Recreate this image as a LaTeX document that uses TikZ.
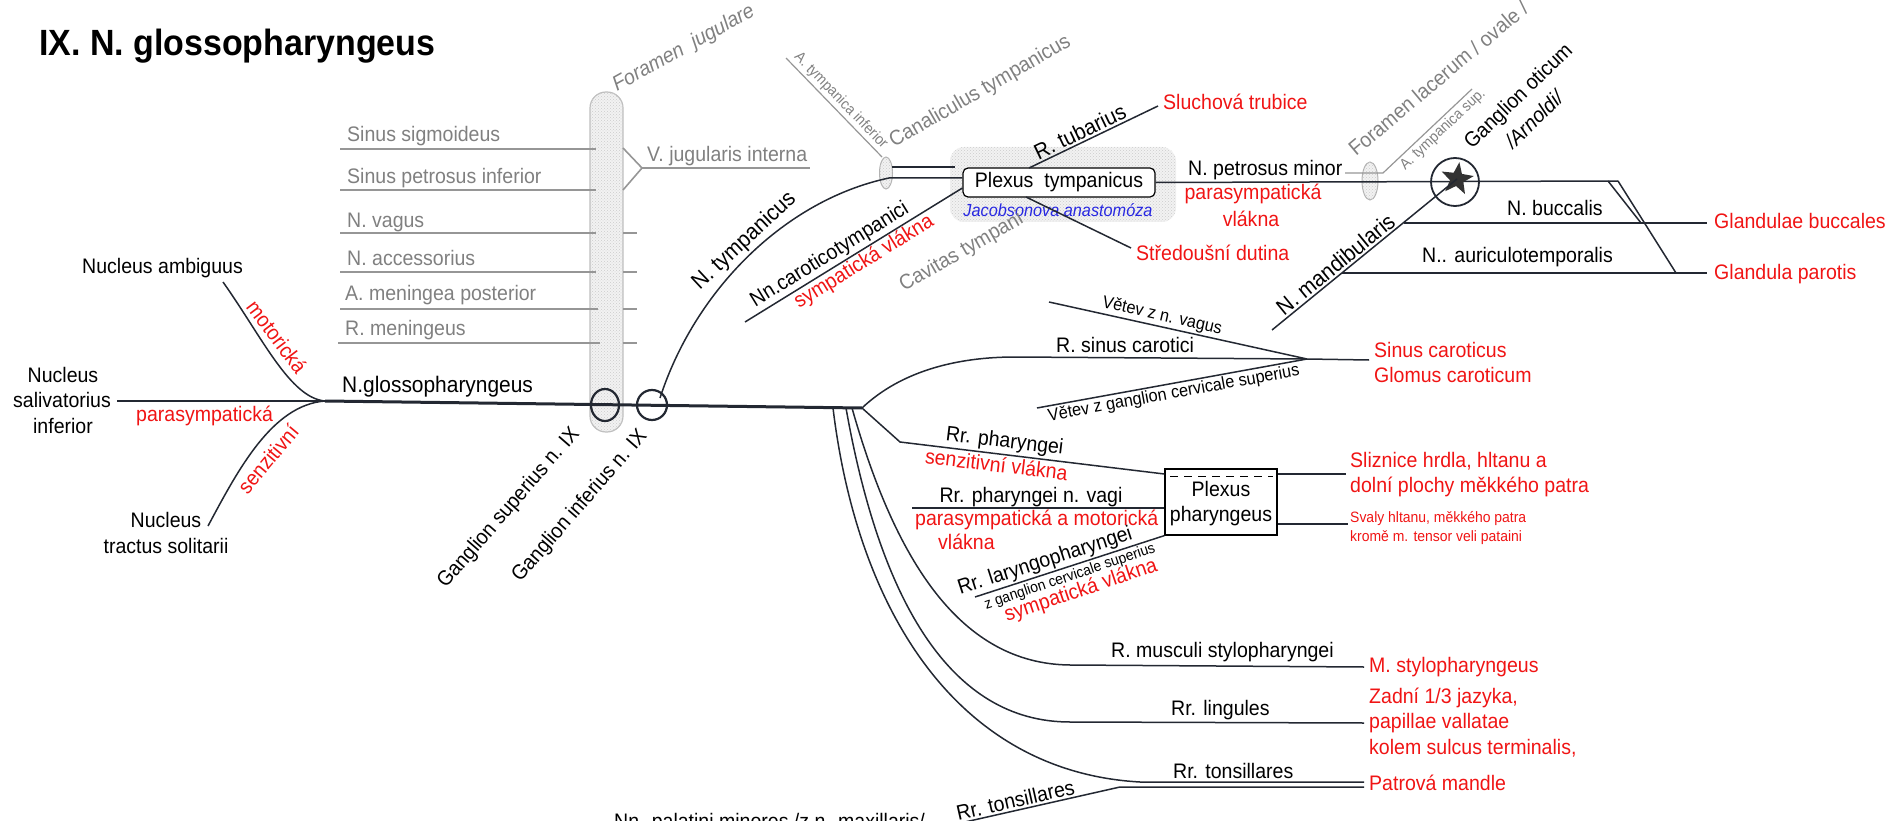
\documentclass[tikz,border=0pt]{standalone}
\usepackage{fontspec}
\setmainfont{Liberation Sans}[FakeStretch=0.93]
\usetikzlibrary{shapes.geometric,patterns}
\definecolor{tgray}{RGB}{128,128,128}
\definecolor{lgray}{RGB}{150,150,150}
\definecolor{tred}{RGB}{240,20,20}
\definecolor{tblue}{RGB}{40,40,225}
\definecolor{nerv}{RGB}{35,40,50}
\begin{document}
\begin{tikzpicture}[x=1pt,y=-1pt,
  lbl/.style={inner sep=0pt, font=\fontsize{21}{24}\selectfont},
  big/.style={inner sep=0pt, font=\fontsize{22.5}{26}\selectfont},
  sml/.style={inner sep=0pt, font=\fontsize{17.5}{20}\selectfont},
  xsml/.style={inner sep=0pt, font=\fontsize{15}{17}\selectfont},
  rt/.style={text=tred},
  gt/.style={text=tgray},
  ln/.style={draw=nerv, line width=1.5pt},
  mainline/.style={draw=nerv, line width=3pt},
  gl/.style={draw=lgray, line width=1.6pt},
  bw/.style={anchor=base west},
  hatch/.style={fill=gray!10, postaction={pattern=crosshatch dots, pattern color=gray!40}},
]
\useasboundingbox (0,0) rectangle (1895,821);

% title
\node[bw, inner sep=0pt, font=\fontsize{36.5}{40}\selectfont\bfseries] (title) at (39,56) {IX. N. glossopharyngeus};

% foramen jugulare
\draw[draw=gray!50, hatch, line width=1.2pt, rounded corners=16pt] (590,92) rectangle (623,432);
\node[bw, gt, inner sep=0pt, rotate=29, font=\fontsize{21}{24}\selectfont\itshape] (fj) at (617,92) {Foramen\ \ jugulare};

% venous / other structures
\node[lbl,gt,bw] (ss) at (347,142) {Sinus sigmoideus};
\node[lbl,gt,bw] (spi) at (347,184) {Sinus petrosus inferior};
\node[lbl,gt,bw] (nv) at (347,227) {N. vagus};
\node[lbl,gt,bw] (nac) at (347,265) {N. accessorius};
\node[lbl,gt,bw] (amp) at (345,300) {A. meningea posterior};
\node[lbl,gt,bw] (rm) at (345,335) {R. meningeus};
\draw[gl] (340,149) -- (596,149);
\draw[gl] (340,190) -- (596,190);
\draw[gl] (340,233) -- (596,233);
\draw[gl] (340,272) -- (596,272);
\draw[gl] (340,309) -- (598,309);
\draw[gl] (338,343) -- (600,343);
\draw[gl] (623,233) -- (637,233);
\draw[gl] (623,272) -- (637,272);
\draw[gl] (623,309) -- (637,309);
\draw[gl] (623,343) -- (637,343);
\coordinate (VJ) at (642,168);
\draw[gl] (623,148) -- (VJ) -- (623,190);
\draw[gl] (VJ) -- (810,168);
\node[lbl,gt,bw] (vji) at (647,162) {V. jugularis interna};

% nuclei
\node[lbl,bw] (na) at (82,273) {Nucleus ambiguus};
\node[lbl,anchor=base] (ns1) at (63,382) {Nucleus};
\node[lbl,anchor=base] (ns2) at (62,407) {salivatorius};
\node[lbl,anchor=base] (ns3) at (63,433) {inferior};
\node[lbl,anchor=base] (nt1) at (166,527) {Nucleus};
\node[lbl,anchor=base] (nt2) at (166,553) {tractus solitarii};

\coordinate (J) at (325,401);
\coordinate (BP) at (862,408);
\draw[ln] (117,401) -- (J);
\draw[ln] (223,282) .. controls (262,337) and (290,398) .. (J);
\draw[ln] (208,526) .. controls (238,470) and (272,405) .. (J);
\draw[mainline] (J) -- (BP);

\node[lbl,rt,rotate=-53] (mot) at (277,337) {motorická};
\node[lbl,rt,rotate=50] (sen) at (268,459) {senzitivní};
\node[lbl,rt,bw] (par) at (136,421) {parasympatická};
\node[bw,inner sep=0pt,font=\fontsize{22.5}{26}\selectfont] (ngl) at (342,392) {N.glossopharyngeus};

% ganglia
\draw[draw=nerv, line width=2.2pt] (605,405) ellipse [x radius=14pt, y radius=16pt];
\draw[draw=nerv, line width=2.2pt] (652,405) circle [radius=15pt];
\node[lbl,rotate=49] (gs) at (509,508) {Ganglion superius n. IX};
\node[lbl,rotate=49] (gi) at (580,506) {Ganglion inferius n. IX};

% canaliculus tympanicus
\draw[draw=gray!60, hatch, line width=1pt] (886,173) ellipse [x radius=6.5pt, y radius=16pt];
\draw[gl, line width=1.2pt] (786,58) -- (882,157) node[midway, sloped, above, xsml, gt, inner sep=2pt] (ati) {A. tympanica inferior};
\node[lbl,gt,bw,rotate=30] (cant) at (894,148) {Canaliculus tympanicus};

% plexus tympanicus
\path[hatch, rounded corners=14pt] (950,147) rectangle (1176,222);
\node[lbl, draw=black, line width=1.2pt, fill=white, rounded corners=5pt, minimum width=192pt, minimum height=29pt, inner sep=0pt] (pt) at (1059,182.5) {Plexus\ \ tympanicus};
\node[inner sep=0pt, text=tblue, font=\fontsize{17.5}{20}\selectfont\itshape, anchor=base] (jac) at (1058,217) {Jacobsonova anastomóza};

\draw[ln] (660,398) .. controls (695,290) and (785,200) .. (889,178) node[pos=0.52, sloped, above, big, inner sep=2pt] (ntl) {N. tympanicus} -- (pt.west |- 0,178);
\draw[ln, line width=1.2pt] (892,167) -- (955,167);

\draw[ln] (745,322) -- (pt.west |- 0,188) node[pos=0.42, sloped, above, lbl, inner sep=2pt] (nct) {Nn.caroticotympanici} node[pos=0.52, sloped, below, lbl, rt, inner sep=1pt] (sv1) {sympatická vlákna};
\node[lbl,gt,bw,rotate=30] (cav) at (904,292) {Cavitas tympani};

\draw[ln] (1029,168) -- (1158,106) node[pos=0.43, sloped, above, inner sep=2pt, font=\fontsize{22}{25}\selectfont] (rtub) {R. tubarius};
\node[lbl,rt,bw] (sluch) at (1163,110) {Sluchová trubice};
\draw[ln] (1026,197) -- (1131,248);
\node[lbl,rt,bw] (stred) at (1136,260) {Středoušní dutina};

% n. petrosus minor
\draw[draw=gray!60, hatch, line width=1pt] (1370,181) ellipse [x radius=8pt, y radius=19pt];
\draw[ln] (pt.east) -- (1618,181);
\node[lbl,bw] (npm) at (1188,176) {N. petrosus minor};
\node[lbl,rt,anchor=base] (par2) at (1253,200) {parasympatická};
\node[lbl,rt,anchor=base] (vl2) at (1251,226) {vlákna};
\draw[gl, line width=1.2pt] (1345,173) -- (1383,173) -- (1472,89) node[pos=0.6, sloped, below, xsml, gt, inner sep=2pt] (ats) {A. tympanica sup.};
\node[lbl,gt,bw,rotate=40] (flo) at (1356,157) {Foramen lacerum / ovale /};

% ganglion oticum
\draw[draw=nerv, line width=1.8pt] (1455,182) circle [radius=24pt];
\node[star, star points=5, star point ratio=2.4, fill=black!80, minimum size=34pt, inner sep=0pt, rotate=-8] (star) at (1457,179) {};
\draw[ln] (1272,330) -- (star.center) node[pos=0.38, sloped, above, big, inner sep=2pt] (nmand) {N. mandibularis};
\node[lbl,bw,rotate=44] (go) at (1472,150) {Ganglion oticum};
\node[bw,inner sep=0pt,rotate=44,font=\fontsize{21}{24}\selectfont\itshape] (arn) at (1513,150) {/Arnoldi/};

\draw[ln] (1608,181) -- (1641,223);
\draw[ln] (1618,181) -- (1676,273);
\draw[ln] (1404,223) -- (1707,223);
\draw[ln] (1342,273) -- (1707,273);
\node[lbl,bw] (nbuc) at (1507,215) {N. buccalis};
\node[lbl,bw] (naur) at (1422,262) {N.. auriculotemporalis};
\node[lbl,rt,bw] (gbuc) at (1714,229) {Glandulae buccales};
\node[lbl,rt,bw] (gpar) at (1714,279) {Glandula parotis};

% r. sinus carotici
\coordinate (SC) at (1307,359);
\draw[ln] (BP) .. controls (900,372) and (955,357) .. (1015,357) -- (SC) -- (1369,360);
\draw[ln] (1049,302) -- (SC) node[pos=0.43, sloped, above, sml, inner sep=1.5pt] (vv) {Větev z n. vagus};
\draw[ln] (1037,408) -- (SC) node[pos=0.5, sloped, below, sml, inner sep=1.5pt] (vg) {Větev z ganglion cervicale superius};
\node[lbl,bw] (rsc) at (1056,352) {R. sinus carotici};
\node[lbl,rt,bw] (sic) at (1374,357) {Sinus caroticus};
\node[lbl,rt,bw] (glc) at (1374,382) {Glomus caroticum};

% plexus pharyngeus
\node[draw=black, line width=1.2pt, minimum width=112pt, minimum height=66pt, inner sep=0pt] (pp) at (1221,502) {};
\draw[line width=1pt, dash pattern=on 8pt off 6pt] (1170,476) -- (1273,476);
\node[lbl, anchor=base] (pp1) at (1221,496) {Plexus};
\node[lbl, anchor=base] (pp2) at (1221,521) {pharyngeus};

\draw[ln] (BP) -- (900,442) -- (pp.west |- 0,474) node[pos=0.39, sloped, above, lbl, inner sep=2pt] (rph) {Rr. pharyngei} node[pos=0.37, sloped, below, lbl, rt, inner sep=2pt] (sv2) {senzitivní vlákna};
\draw[ln] (912,508) -- (pp.west |- 0,508);
\node[lbl,anchor=base] (rpv) at (1031,502) {Rr. pharyngei n. vagi};
\node[lbl,rt,bw] (pam) at (915,525) {parasympatická a motorická};
\node[lbl,rt,bw] (pam2) at (938,549) {vlákna};

\draw[ln] (pp.east |- 0,474) -- (1346,474);
\draw[ln] (pp.east |- 0,524) -- (1348,524);
\node[lbl,rt,bw] (sl1) at (1350,467) {Sliznice hrdla, hltanu a};
\node[lbl,rt,bw] (sl2) at (1350,492) {dolní plochy měkkého patra};
\node[xsml,rt,bw] (sv3) at (1350,522) {Svaly hltanu, měkkého patra};
\node[xsml,rt,bw] (sv4) at (1350,541) {kromě m. tensor veli pataini};

\draw[ln] (975,597) -- (pp.south west) node[pos=0.39, sloped, above, lbl, inner sep=1.5pt] (rlp) {Rr. laryngopharyngei};
\node[xsml,rotate=18.6] (zgc) at (1070,577) {z ganglion cervicale superius};
\node[lbl,rt,rotate=18.6] (sv5) at (1081,591) {sympatická vlákna};

% lower branches
\draw[ln] (852,408) .. controls (895,560) and (960,664) .. (1070,665) -- (1364,667);
\draw[ln] (846,408) .. controls (880,600) and (950,722) .. (1070,722) -- (1364,723);
\draw[ln] (833,408) .. controls (858,615) and (960,772) .. (1140,782) -- (1364,782);
\draw[ln] (965,822) -- (1120,787) node[pos=0.34, sloped, above, lbl, inner sep=2pt] (rto2) {Rr. tonsillares} -- (1364,787);

\node[lbl,bw] (rmsp) at (1111,657) {R. musculi stylopharyngei};
\node[lbl,rt,bw] (msp) at (1369,672) {M. stylopharyngeus};
\node[lbl,bw] (rli) at (1171,715) {Rr. lingules};
\node[lbl,rt,bw] (z1) at (1369,703) {Zadní 1/3 jazyka,};
\node[lbl,rt,bw] (z2) at (1369,728) {papillae vallatae};
\node[lbl,rt,bw] (z3) at (1369,754) {kolem sulcus terminalis,};
\node[lbl,bw] (rto) at (1173,778) {Rr. tonsillares};
\node[lbl,rt,bw] (pm) at (1369,790) {Patrová mandle};
\node[lbl,bw] (npal) at (614,828) {Nn. palatini minores /z n. maxillaris/};
\end{tikzpicture}
\end{document}
